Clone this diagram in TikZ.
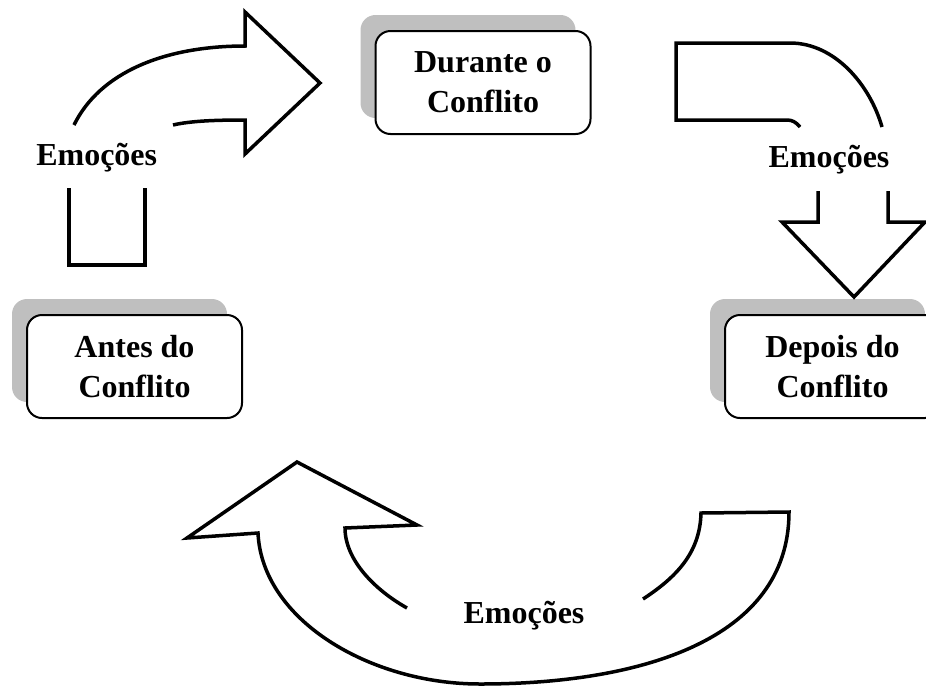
\documentclass[tikz,border=0pt]{standalone}
\usepackage{fontspec}
\setmainfont{Liberation Serif}
\usetikzlibrary{shadows}
\definecolor{shadowgray}{RGB}{191,191,191}
\begin{document}
\begin{tikzpicture}[x=1pt,y=-1pt,
  boxnode/.style={draw=black, line width=2pt, fill=white, rounded corners=15pt,
    minimum width=215pt, minimum height=103pt, align=center, inner sep=0pt,
    font=\bfseries\fontsize{32}{40}\selectfont,
    general shadow={fill=shadowgray, shadow xshift=-15pt, shadow yshift=16pt}},
  lbl/.style={font=\bfseries\fontsize{32}{37}\selectfont, inner sep=0pt, anchor=base},
  blockarrow/.style={draw=black, line width=3.5pt}]
\useasboundingbox (0,0) rectangle (926,686);
\clip (0,0) rectangle (926,686);

% boxes
\node[boxnode] (antes) at (134.5,366.5) {Antes do\\Conflito};
\node[boxnode] (durante) at (483,82.5) {Durante o\\Conflito};
\node[boxnode] (depois) at (832.5,366.5) {Depois do\\Conflito};

% top-left arrow
\draw[blockarrow] (74,125) .. controls (100,72) and (165,46) .. (245,46) -- (245,12) -- (320,83) -- (245,154) -- (245,120) .. controls (215,120) and (190,121) .. (173,125);
\draw[blockarrow] (69,188) -- (69,265) -- (145,265) -- (145,188);
\node[lbl] (emo1) at (96.7,165) {Emoções};

% top-right arrow
\draw[blockarrow] (800,127) .. controls (796,122) and (792,120) .. (787,120) -- (676,120) -- (676,43) -- (790,43) .. controls (835,43) and (870,85) .. (882,127);
\draw[blockarrow] (818,191) -- (818,222) -- (782,222) -- (854,297) -- (925,222) -- (888,222) -- (888,191);
\node[lbl] (emo2) at (829,167) {Emoções};

% bottom arrow
\draw[blockarrow] (643,599) .. controls (680,575) and (700,550) .. (701,513) -- (789,512) .. controls (789,640) and (640,684) .. (480,684) .. controls (370,684) and (262,620) .. (258,533) -- (187,538) -- (297,462) -- (417,525) -- (345,528) .. controls (345,560) and (375,590) .. (407,608);
\node[lbl] (emo3) at (524,623) {Emoções};
\end{tikzpicture}
\end{document}
